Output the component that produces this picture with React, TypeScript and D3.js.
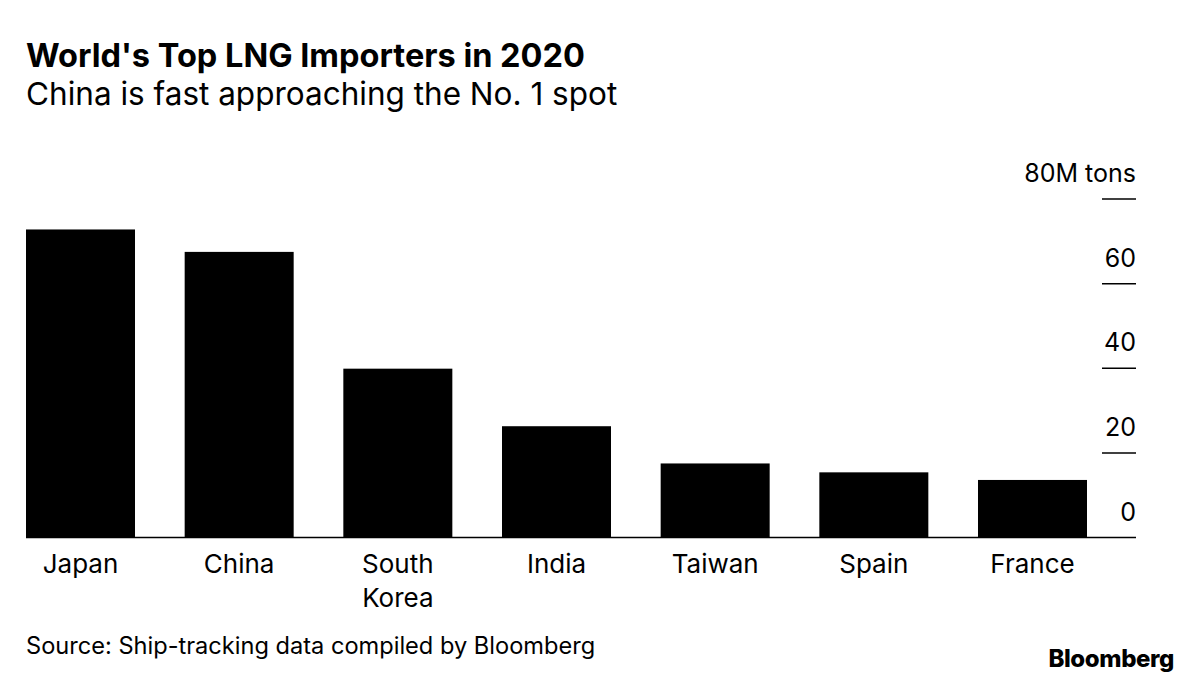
import React from "react";
import * as d3 from "d3";

const categories = ["Japan", "China", "South Korea", "India", "Taiwan", "Spain", "France"];
const values = [72.8, 67.5, 39.9, 26.3, 17.5, 15.4, 13.6];
const yTicks = [0, 20, 40, 60, 80];
const title = "World's Top LNG Importers in 2020";
const subtitle = "China is fast approaching the No. 1 spot";
const source = "Source: Ship-tracking data compiled by Bloomberg";

const W = 1200;
const H = 683;
const FONT = "Inter, 'Liberation Sans', Arial, sans-serif";

export default function App() {
  const x = d3.scaleBand<string>().domain(categories).range([26, 1087]).paddingInner(0.313).paddingOuter(0);
  const y = d3.scaleLinear().domain([0, 80]).range([537.5, 199]);
  const axisRight = 1136;

  return (
    <svg width={W} height={H} style={{ position: "absolute", left: 0, top: 0, background: "#fff" }} fontFamily={FONT}>
      <rect width={W} height={H} fill="#fff" />
      <text x={26} y={67} fontSize={32.5} fontWeight={700} fill="#000">{title}</text>
      <text x={26} y={105} fontSize={31.5} fill="#000">{subtitle}</text>

      {values.map((v, i) => (
        <rect key={categories[i]} x={x(categories[i])} y={y(v)} width={x.bandwidth()} height={y(0) - y(v)} fill="#000" />
      ))}

      <line x1={26} x2={axisRight} y1={y(0)} y2={y(0)} stroke="#000" strokeWidth={1.5} />

      {yTicks.map((t) => (
        <g key={t}>
          {t > 0 && <line x1={1102} x2={axisRight} y1={y(t)} y2={y(t)} stroke="#000" strokeWidth={1.5} />}
          <text x={axisRight} y={y(t) - 17} textAnchor="end" fontSize={25} fill="#000">
            {t === 80 ? "80M tons" : String(t)}
          </text>
        </g>
      ))}

      {categories.map((c) => {
        const lines = c === "South Korea" ? ["South", "Korea"] : [c];
        const cx = (x(c) as number) + x.bandwidth() / 2;
        return (
          <text key={c} textAnchor="middle" fontSize={26} fill="#000">
            {lines.map((l, j) => (
              <tspan key={l} x={cx} y={573 + j * 34}>{l}</tspan>
            ))}
          </text>
        );
      })}

      <text x={26} y={654} fontSize={23.6} fill="#000">{source}</text>
      <text x={1174} y={667} textAnchor="end" fontSize={24} fontWeight={800} fill="#000" letterSpacing={-0.4}>Bloomberg</text>
    </svg>
  );
}
